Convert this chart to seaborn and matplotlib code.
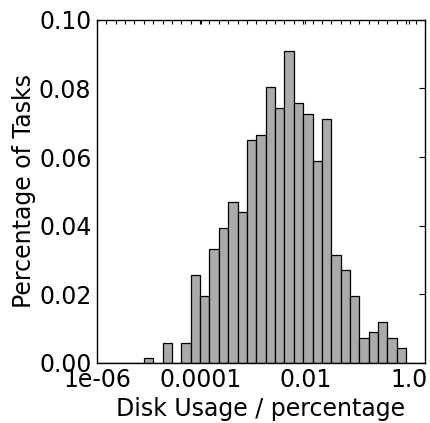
import numpy as np
import pandas as pd
import matplotlib
matplotlib.use("Agg")
import matplotlib.pyplot as plt
from matplotlib.ticker import FixedLocator
import seaborn as sns

# bins on log10(disk usage), from 1e-06 up to 2.0
n_bins = 35
log_min = -6.0
log_max = np.log10(2.0)

# fraction of tasks per bin (bins 5..32, the rest are empty)
first_bin = 5
task_share = [0.0013, 0.0, 0.0058, 0.0, 0.0058, 0.0256, 0.0196, 0.0332,
              0.0392, 0.0468, 0.0439, 0.0650, 0.0665, 0.0803, 0.0742, 0.0909,
              0.0757, 0.0727, 0.0590, 0.0711, 0.0316, 0.0270, 0.0196, 0.0073,
              0.0089, 0.0119, 0.0073, 0.0043]

tick_pos = [-6, -4, -2, 0]
tick_labels = ["1e-06", "0.0001", "0.01", "1.0"]

edges = np.linspace(log_min, log_max, n_bins + 1)
centers = (edges[:-1] + edges[1:]) / 2
df = pd.DataFrame({
    "log_usage": centers[first_bin:first_bin + len(task_share)],
    "share": task_share,
})

sns.set_style("white")
plt.rcParams["font.family"] = ["DejaVu Sans"]
plt.rcParams["text.color"] = "black"
plt.rcParams["axes.labelcolor"] = "black"
plt.rcParams["xtick.color"] = "black"
plt.rcParams["ytick.color"] = "black"

fig = plt.figure(figsize=(4.31, 4.23), dpi=100)
ax = fig.add_axes([0.225, 0.142, 0.761, 0.811])

sns.histplot(data=df, x="log_usage", weights="share", bins=list(edges), ax=ax,
             color="#aaaaaa", alpha=1.0, edgecolor="black", linewidth=0.9)

ax.set_xlim(log_min, log_max)
ax.set_ylim(0, 0.10)
ax.set_xticks(tick_pos)
ax.set_xticklabels(tick_labels)
ax.xaxis.set_minor_locator(FixedLocator(edges))
ax.set_yticks(np.arange(0, 0.101, 0.02))
ax.set_yticklabels(["%.2f" % v for v in np.arange(0, 0.101, 0.02)])

ax.tick_params(axis="both", which="both", direction="in", top=True, right=True,
               labelsize=17, colors="black", pad=4)
ax.tick_params(axis="x", which="major", length=3, width=0.8)
ax.tick_params(axis="x", which="minor", length=3, width=0.8)
ax.tick_params(axis="y", which="major", length=4, width=0.8)

for s in ax.spines.values():
    s.set_color("black")
    s.set_linewidth(1.0)

ax.set_xlabel("Disk Usage / percentage", fontsize=17, labelpad=3, color="black")
ax.set_ylabel("Percentage of Tasks", fontsize=17, labelpad=2, color="black")

fig.savefig("out.png", dpi=100)
